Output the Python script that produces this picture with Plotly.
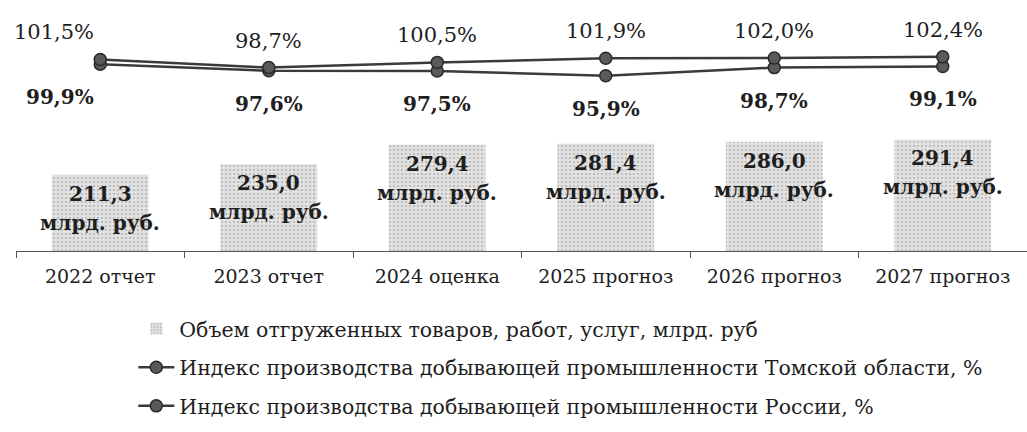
import plotly.graph_objects as go

categories = ["2022 отчет", "2023 отчет", "2024 оценка", "2025 прогноз", "2026 прогноз", "2027 прогноз"]
volume = [211.3, 235.0, 279.4, 281.4, 286.0, 291.4]
tomsk_index = [99.9, 97.6, 97.5, 95.9, 98.7, 99.1]
russia_index = [101.5, 98.7, 100.5, 101.9, 102.0, 102.4]

name_volume = "Объем отгруженных товаров, работ, услуг, млрд. руб"
name_tomsk = "Индекс производства добывающей промышленности Томской области, %"
name_russia = "Индекс производства добывающей промышленности России, %"

def fmt(v, d=1):
    return f"{v:.{d}f}".replace(".", ",")

FONT = "DejaVu Serif"
TXT = "#1e1e1e"

fig = go.Figure()

fig.add_trace(go.Bar(
    x=categories, y=volume, name=name_volume, legendgroup="a",
    width=0.575,
    marker=dict(color="#e2e2e2", line=dict(width=0),
                pattern=dict(shape=".", fgcolor="#9a9a9a", bgcolor="#e4e4e4",
                             size=4, solidity=0.35)),
    hoverinfo="skip",
))

line_style = dict(color="#3a3a3a", width=2.5)
marker_style = dict(symbol="circle", size=12, color="#5a5a5a",
                    line=dict(color="#2a2a2a", width=1.5))

fig.add_trace(go.Scatter(
    x=categories, y=tomsk_index, name=name_tomsk, legendgroup="b",
    mode="lines+markers", line=line_style, marker=marker_style, yaxis="y2",
))
fig.add_trace(go.Scatter(
    x=categories, y=russia_index, name=name_russia, legendgroup="c",
    mode="lines+markers", line=line_style, marker=marker_style, yaxis="y2",
))

annotations = []
for i, (c, v) in enumerate(zip(categories, volume)):
    annotations.append(dict(x=c, y=v, xref="x", yref="y", text=f"<b>{fmt(v)}</b>",
                            showarrow=False, yanchor="middle", yshift=-19,
                            font=dict(family=FONT, size=20, color=TXT)))
    annotations.append(dict(x=c, y=v, xref="x", yref="y", text="<b>млрд. руб.</b>",
                            showarrow=False, yanchor="middle", yshift=-48,
                            font=dict(family=FONT, size=20, color=TXT)))

for i, (c, v) in enumerate(zip(categories, russia_index)):
    annotations.append(dict(x=c, y=v, xref="x", yref="y2", text=f"{fmt(v)}%",
                            showarrow=False, yanchor="middle", yshift=27,
                            xanchor="right" if i == 0 else "center",
                            xshift=-4 if i == 0 else 0,
                            font=dict(family=FONT, size=21, color=TXT)))
for i, (c, v) in enumerate(zip(categories, tomsk_index)):
    annotations.append(dict(x=c, y=v, xref="x", yref="y2", text=f"<b>{fmt(v)}%</b>",
                            showarrow=False, yanchor="middle", yshift=-33,
                            xanchor="right" if i == 0 else "center",
                            xshift=-4 if i == 0 else 0,
                            font=dict(family=FONT, size=20, color=TXT)))

fig.update_layout(
    width=1027, height=432,
    margin=dict(l=16, r=0, t=0, b=181),
    paper_bgcolor="white", plot_bgcolor="white",
    font=dict(family=FONT, size=19, color=TXT),
    bargap=0.425,
    showlegend=True,
    legend=dict(x=0.116, y=-0.23, xanchor="left", yanchor="top",
                orientation="v", traceorder="grouped", tracegroupgap=9,
                font=dict(family=FONT, size=20.5, color=TXT),
                bgcolor="rgba(0,0,0,0)", itemwidth=36),
    xaxis=dict(type="category", range=[-0.5, 5.5], showgrid=False,
               showline=True, linecolor="#555", linewidth=1.2,
               ticks="outside", tickson="boundaries", ticklen=6, tickcolor="#555",
               ticklabelstandoff=8,
               tickfont=dict(family=FONT, size=19, color=TXT), zeroline=False),
    yaxis=dict(range=[38, 608], visible=False, showgrid=False, zeroline=False),
    yaxis2=dict(range=[35.5, 122.0], overlaying="y", visible=False,
                showgrid=False, zeroline=False),
    annotations=annotations,
)

fig.write_html("out.html",
               config={"displayModeBar": False},
               post_script="document.body.style.margin='0px';"
                           "document.body.style.overflow='hidden';")
